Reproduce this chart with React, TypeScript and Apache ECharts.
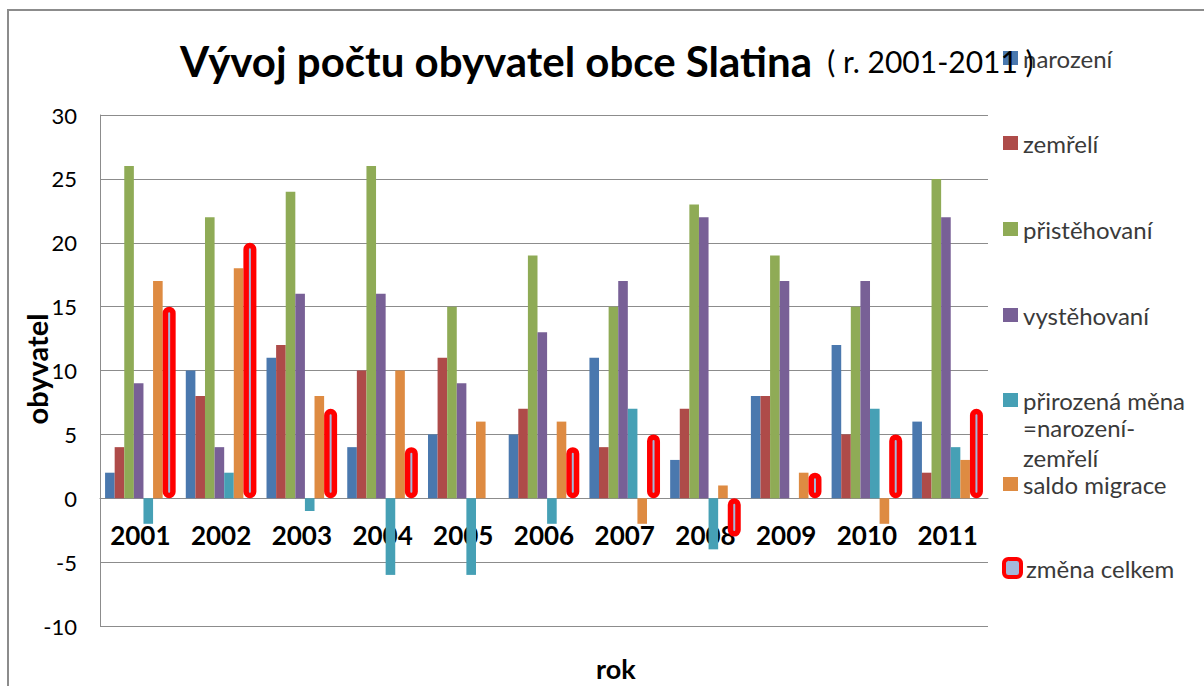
import React, { useEffect, useRef } from "react";
import * as echarts from "echarts";

const years = ["2001", "2002", "2003", "2004", "2005", "2006", "2007", "2008", "2009", "2010", "2011"];
const narozeni = [2, 10, 11, 4, 5, 5, 11, 3, 8, 12, 6];
const zemreli = [4, 8, 12, 10, 11, 7, 4, 7, 8, 5, 2];
const pristehovani = [26, 22, 24, 26, 15, 19, 15, 23, 19, 15, 25];
const vystehovani = [9, 4, 16, 16, 9, 13, 17, 22, 17, 17, 22];
const prirozena = [-2, 2, -1, -6, -6, -2, 7, -4, 0, 7, 4];
const saldo = [17, 18, 8, 10, 6, 6, -2, 1, 2, -2, 3];
const zmena = [15, 20, 7, 4, 0, 4, 5, -3, 2, 5, 7];
const yTicks = [-10, -5, 0, 5, 10, 15, 20, 25, 30];

const seriesNames = [
  "narození",
  "zemřelí",
  "přistěhovaní",
  "vystěhovaní",
  "přirozená měna =narození-zemřelí",
  "saldo migrace",
  "změna celkem",
];
const legendLabels = [
  "narození",
  "zemřelí",
  "přistěhovaní",
  "vystěhovaní",
  "přirozená měna",
  "saldo migrace",
  "změna celkem",
];
const colors = ["#4a78ae", "#ae4b49", "#8fab56", "#786096", "#46a0b5", "#de8b42", "#a4b7da"];
const legendCenters = [60, 145, 231, 317, 402, 486, 570];

const FONT = "Lato, 'Open Sans', sans-serif";

export default function App() {
  const ref = useRef<HTMLDivElement>(null);
  useEffect(() => {
    if (!ref.current) return;
    const chart = echarts.init(ref.current, undefined, { renderer: "svg" });
    const values = [narozeni, zemreli, pristehovani, vystehovani, prirozena, saldo];
    const series: any[] = values.map((d, i) => ({
      name: seriesNames[i],
      type: "bar",
      data: d,
      barGap: "0%",
      barWidth: 9.6,
      itemStyle: { color: colors[i] },
    }));
    series.push({
      name: seriesNames[6],
      type: "bar",
      data: zmena.map((v) => (v === 0 ? { value: v, itemStyle: { borderWidth: 0 } } : v)),
      barGap: "0%",
      barWidth: 13,
      z: 3,
      itemStyle: { color: colors[6], borderColor: "#ff0000", borderWidth: 5.5, borderRadius: 4 },
    });

    const legends = seriesNames.map((n, i) => ({
      data: [n],
      orient: "vertical",
      left: i === 6 ? 1002 : 1003,
      top: legendCenters[i] - 14,
      padding: 0,
      icon: i === 6 ? "roundRect" : "rect",
      itemWidth: i === 6 ? 17 : 15,
      itemHeight: i === 6 ? 18 : 14,
      itemGap: 0,
      formatter: () => legendLabels[i],
      textStyle: { fontFamily: FONT, fontSize: 24, color: "#3a3a3a" },
      itemStyle:
        i === 6
          ? { color: colors[6], borderWidth: 4, borderColor: "#ff0000" }
          : { color: colors[i], borderWidth: 0 },
    }));

    chart.setOption({
      animation: false,
      color: colors,
      title: {
        text: "{b|Vývoj počtu obyvatel obce Slatina}{n|  ( r. 2001-2011 )}",
        left: 175,
        top: 35,
        textStyle: {
          rich: {
            b: { fontFamily: FONT, fontWeight: "bold", fontSize: 42, color: "#000" },
            n: { fontFamily: FONT, fontWeight: "normal", fontSize: 30, color: "#000" },
          },
        },
      },
      legend: legends,
      grid: {
        left: 100,
        right: 216,
        top: 115,
        bottom: 60,
        containLabel: false,
        outerBoundsMode: "none",
      },
      xAxis: {
        type: "category",
        data: years,
        offset: -128,
        axisLine: { onZero: false, lineStyle: { color: "#8c8c8c", width: 1 } },
        axisTick: { show: false },
        axisLabel: {
          interval: 0,
          fontFamily: FONT,
          fontWeight: "bold",
          fontSize: 26,
          color: "#000",
          margin: 24,
        },
      },
      yAxis: {
        type: "value",
        min: yTicks[0],
        max: yTicks[yTicks.length - 1],
        interval: 5,
        axisLine: { show: true, lineStyle: { color: "#8c8c8c" } },
        axisTick: { show: false },
        axisLabel: { fontFamily: FONT, fontSize: 22, color: "#000", margin: 23 },
        splitLine: { lineStyle: { color: "#8c8c8c", width: 1 } },
      },
      graphic: [
        {
          type: "rect",
          z: -10,
          shape: { x: 8, y: 10, width: 1400, height: 1000 },
          style: { fill: "none", stroke: "#8c8c8c", lineWidth: 2 },
        },
        {
          type: "text",
          x: 36,
          y: 369,
          rotation: Math.PI / 2,
          style: {
            text: "obyvatel",
            fontFamily: FONT,
            fontWeight: "bold",
            fontSize: 29,
            fill: "#000",
            align: "center",
            verticalAlign: "middle",
          },
        },
        {
          type: "text",
          left: 1023,
          top: 415,
          style: { text: "=narození-", fontFamily: FONT, fontSize: 24, fill: "#3a3a3a" },
        },
        {
          type: "text",
          left: 1023,
          top: 445,
          style: { text: "zemřelí", fontFamily: FONT, fontSize: 24, fill: "#3a3a3a" },
        },
        {
          type: "text",
          left: 596,
          top: 655,
          style: { text: "rok", fontFamily: FONT, fontWeight: "bold", fontSize: 27, fill: "#000" },
        },
      ],
      series,
    });
    return () => chart.dispose();
  }, []);
  return (
    <div
      ref={ref}
      style={{ position: "fixed", left: 0, top: 0, width: 1204, height: 686, background: "#fff" }}
    />
  );
}
